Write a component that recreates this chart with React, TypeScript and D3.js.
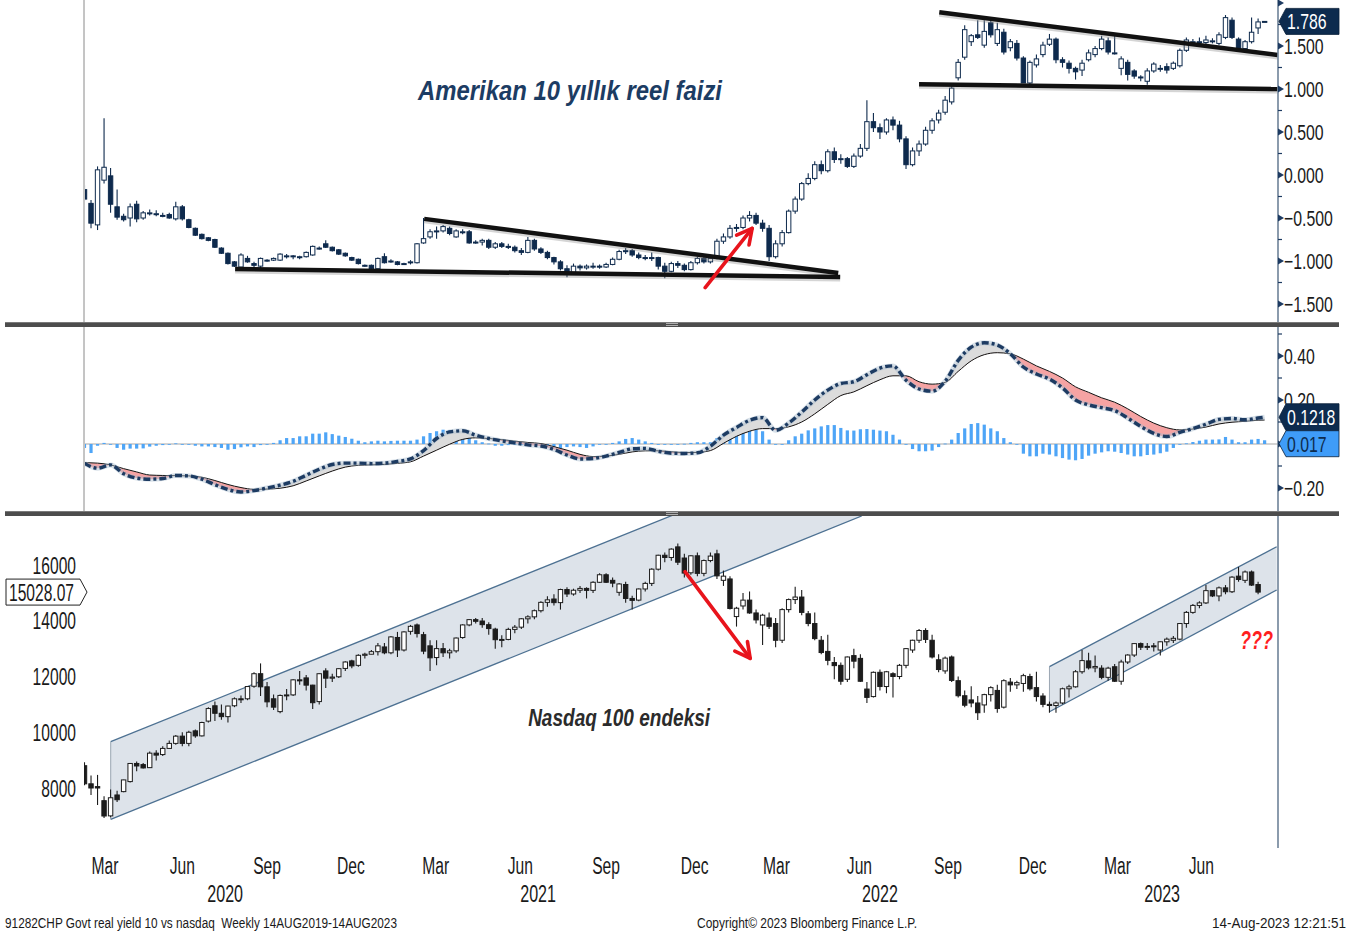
import React from "react";
import * as d3 from "d3";

// ---------------- DATA ----------------
const firstWeek = "2020-02-28"; // weekly bars, Fridays
const lastWeekIndex = 181;

// US 10y real yield weekly candles [open, high, low, close]
const realYieldOHLC: number[][] = [
  [-0.17,-0.12,-0.30,-0.28],[-0.33,-0.29,-0.62,-0.56],[-0.58,0.10,-0.64,0.06],[-0.06,0.66,-0.10,0.09],[-0.01,0.08,-0.44,-0.34],
  [-0.37,-0.17,-0.52,-0.49],[-0.48,-0.45,-0.54,-0.52],[-0.50,-0.33,-0.60,-0.37],[-0.34,-0.30,-0.55,-0.51],[-0.50,-0.42,-0.52,-0.44],
  [-0.44,-0.40,-0.47,-0.44],[-0.45,-0.41,-0.48,-0.45],[-0.47,-0.44,-0.49,-0.47],[-0.46,-0.44,-0.51,-0.50],[-0.51,-0.31,-0.53,-0.37],
  [-0.37,-0.35,-0.53,-0.51],[-0.52,-0.51,-0.62,-0.61],[-0.62,-0.61,-0.71,-0.70],[-0.69,-0.68,-0.75,-0.74],[-0.73,-0.72,-0.77,-0.76],
  [-0.75,-0.74,-0.85,-0.84],[-0.85,-0.84,-0.92,-0.91],[-0.91,-0.90,-1.04,-1.03],[-1.01,-1.00,-1.07,-1.06],[-1.07,-0.91,-1.08,-0.93],
  [-0.97,-0.94,-1.02,-1.01],[-1.03,-1.01,-1.07,-1.05],[-1.06,-0.96,-1.09,-0.97],[-0.99,-0.98,-1.01,-0.99],[-0.99,-0.96,-1.00,-0.97],
  [-0.99,-0.91,-1.00,-0.92],[-0.94,-0.92,-0.97,-0.94],[-0.94,-0.93,-0.98,-0.94],[-0.95,-0.94,-0.98,-0.95],[-0.95,-0.89,-0.96,-0.90],
  [-0.93,-0.82,-0.94,-0.83],[-0.85,-0.83,-0.87,-0.85],[-0.80,-0.76,-0.85,-0.84],[-0.84,-0.83,-0.89,-0.88],[-0.87,-0.86,-0.93,-0.92],
  [-0.91,-0.90,-0.95,-0.94],[-0.96,-0.95,-1.00,-0.99],[-0.98,-0.97,-1.04,-1.03],[-1.05,-1.04,-1.07,-1.05],[-1.05,-1.04,-1.10,-1.09],
  [-1.09,-0.96,-1.10,-0.97],[-0.95,-0.91,-1.03,-1.02],[-1.00,-0.98,-1.02,-1.00],[-1.01,-1.00,-1.05,-1.04],[-1.03,-1.02,-1.04,-1.03],
  [-1.01,-0.99,-1.04,-1.01],[-1.02,-0.79,-1.03,-0.80],[-0.79,-0.50,-0.80,-0.74],[-0.72,-0.63,-0.74,-0.66],[-0.65,-0.60,-0.74,-0.65],
  [-0.65,-0.58,-0.67,-0.60],[-0.62,-0.60,-0.70,-0.68],[-0.72,-0.63,-0.73,-0.65],[-0.66,-0.63,-0.69,-0.66],[-0.66,-0.64,-0.80,-0.79],
  [-0.78,-0.76,-0.80,-0.78],
  [-0.78,-0.74,-0.82,-0.76],[-0.76,-0.74,-0.86,-0.84],[-0.84,-0.78,-0.86,-0.80],[-0.80,-0.78,-0.85,-0.83],[-0.83,-0.80,-0.86,-0.84],
  [-0.84,-0.82,-0.90,-0.88],[-0.88,-0.85,-0.93,-0.90],[-0.90,-0.72,-0.91,-0.76],[-0.76,-0.74,-0.88,-0.86],[-0.86,-0.84,-0.92,-0.90],
  [-0.90,-0.88,-0.98,-0.96],[-0.96,-0.95,-1.04,-1.01],[-1.01,-0.99,-1.11,-1.09],[-1.09,-1.05,-1.19,-1.15],[-1.15,-1.03,-1.16,-1.06],
  [-1.06,-1.04,-1.11,-1.08],[-1.08,-1.04,-1.10,-1.06],[-1.06,-1.02,-1.09,-1.06],[-1.06,-1.04,-1.09,-1.07],[-1.07,-1.02,-1.08,-1.04],
  [-1.04,-0.96,-1.05,-0.98],[-0.98,-0.87,-0.99,-0.89],[-0.89,-0.85,-0.92,-0.88],[-0.88,-0.86,-0.95,-0.93],[-0.93,-0.90,-0.98,-0.96],
  [-0.96,-0.93,-0.99,-0.97],[-0.97,-0.90,-1.00,-0.96],[-0.96,-0.95,-1.10,-1.06],[-1.06,-1.02,-1.20,-1.12],[-1.12,-1.01,-1.13,-1.03],
  [-1.03,-1.00,-1.08,-1.05],[-1.05,-1.03,-1.12,-1.10],[-1.10,-1.00,-1.11,-1.02],[-1.02,-0.95,-1.04,-0.97],[-0.97,-0.95,-1.03,-1.01],
  [-1.01,-0.95,-1.03,-0.97],[-0.97,-0.74,-0.98,-0.77],[-0.77,-0.68,-0.80,-0.72],[-0.72,-0.58,-0.74,-0.62],[-0.62,-0.57,-0.66,-0.61],
  [-0.61,-0.47,-0.63,-0.50],[-0.50,-0.42,-0.54,-0.47],[-0.47,-0.44,-0.58,-0.56],[-0.56,-0.52,-0.66,-0.62],[-0.62,-0.58,-1.00,-0.95],
  [-0.95,-0.76,-0.97,-0.80],[-0.80,-0.64,-0.83,-0.67],[-0.67,-0.40,-0.68,-0.42],[-0.42,-0.25,-0.45,-0.28],[-0.28,-0.08,-0.30,-0.10],
  [-0.10,0.02,-0.12,-0.04],[-0.04,0.16,-0.06,0.12],[0.12,0.17,0.01,0.05],[0.05,0.30,0.03,0.27],[0.27,0.32,0.14,0.18],
  [0.18,0.24,0.13,0.19],[0.19,0.21,0.08,0.10],[0.10,0.25,0.08,0.22],[0.22,0.36,0.20,0.31],[0.31,0.87,0.28,0.62],
  [0.62,0.72,0.50,0.55],[0.55,0.60,0.42,0.50],[0.50,0.66,0.47,0.64],[0.64,0.68,0.52,0.58],[0.58,0.63,0.38,0.42],
  [0.42,0.45,0.07,0.12],[0.12,0.32,0.10,0.28],[0.28,0.40,0.22,0.36],[0.36,0.56,0.34,0.52],[0.52,0.66,0.48,0.63],
  [0.64,0.76,0.60,0.72],[0.73,0.92,0.70,0.87],[0.85,1.06,0.82,1.01],[1.13,1.35,1.10,1.31],[1.37,1.74,1.34,1.69],
  [1.55,1.64,1.50,1.62],[1.63,1.80,1.58,1.60],[1.51,1.80,1.48,1.67],[1.77,1.80,1.60,1.63],[1.53,1.77,1.50,1.69],
  [1.66,1.70,1.40,1.43],[1.48,1.58,1.44,1.55],[1.53,1.57,1.33,1.36],[1.36,1.38,1.07,1.07],[1.07,1.33,1.05,1.31],
  [1.28,1.40,1.25,1.35],[1.40,1.55,1.37,1.51],[1.52,1.64,1.50,1.58],[1.58,1.60,1.30,1.34],[1.34,1.37,1.25,1.31],
  [1.30,1.33,1.18,1.24],[1.24,1.26,1.11,1.20],[1.22,1.34,1.15,1.30],[1.34,1.46,1.32,1.42],[1.40,1.50,1.37,1.47],
  [1.47,1.62,1.45,1.58],[1.56,1.60,1.40,1.43],[1.42,1.65,1.40,1.42],[1.24,1.38,1.16,1.35],[1.31,1.34,1.10,1.17],
  [1.21,1.23,1.12,1.15],[1.14,1.16,1.09,1.14],[1.09,1.24,1.05,1.21],[1.21,1.31,1.19,1.29],[1.24,1.28,1.20,1.24],
  [1.26,1.30,1.18,1.22],[1.24,1.32,1.22,1.30],[1.27,1.47,1.25,1.45],[1.45,1.60,1.43,1.57],[1.55,1.58,1.50,1.55],
  [1.55,1.60,1.53,1.55],[1.54,1.62,1.52,1.57],[1.56,1.59,1.53,1.56],[1.53,1.66,1.51,1.63],[1.60,1.86,1.58,1.83],
  [1.80,1.83,1.58,1.60],[1.58,1.60,1.44,1.46],[1.47,1.57,1.44,1.55],[1.55,1.83,1.53,1.66],[1.71,1.82,1.64,1.78],
  [1.786,1.79,1.78,1.786],
];

// Nasdaq 100 weekly candles [open, high, low, close]
const nasdaqOHLC: number[][] = [
  [8800,8920,8100,8150],[8150,8450,7750,8000],[8050,8470,7390,8000],[7545,7700,6920,6995],[7000,7950,6950,7650],
  [7750,7900,7500,7580],[7870,8300,7850,8290],[8230,8900,8200,8880],[8880,8950,8600,8790],[8840,8900,8700,8720],
  [8730,9310,8720,9250],[9250,9350,8990,9180],[9200,9500,9150,9420],[9420,9700,9400,9600],[9600,9900,9550,9860],
  [9860,10000,9500,9600],[9600,10050,9500,10000],[10050,10100,9800,9870],[9870,10380,9850,10350],[10400,10900,10350,10850],
  [10950,11100,10400,10680],[10680,11000,10450,10560],[10560,10950,10350,10940],[10950,11250,10900,11200],[11200,11320,11050,11190],
  [11200,11650,11150,11640],[11650,12150,11600,12100],[12100,12470,11300,11630],[11630,11800,10900,11090],[11200,11350,10800,10900],
  [10740,11350,10680,11320],[11320,11550,11150,11340],[11340,11900,11300,11880],[11880,12200,11700,11860],[11950,12050,11500,11690],
  [11690,11700,10830,11060],[11100,12120,11000,12100],[12200,12300,11590,11940],[11940,12100,11800,11980],[11990,12300,11950,12280],
  [12290,12550,12200,12520],[12560,12600,12300,12380],[12400,12800,12350,12760],[12760,12850,12650,12800],[12800,12950,12800,12890],
  [12890,13200,12750,13100],[13060,13200,12800,12850],[12850,13450,12800,13420],[13400,13600,12700,12950],[12950,13620,12900,13600],
  [13620,13850,13500,13800],[13850,13900,13400,13540],[13500,13600,12800,12910],[13100,13300,12200,12670],[12680,13300,12400,13000],
  [13000,13200,12700,12850],[12850,13000,12650,12920],[12920,13400,12850,13380],[13400,13870,13350,13850],[13850,14060,13800,14040],
  [14040,14100,13900,13980],[13990,14100,13750,13860],[13860,13950,13500,13720],[13700,13750,13000,13320],[13320,13480,13050,13330],
  [13330,13750,13300,13690],[13690,13850,13550,13770],[13770,14100,13700,14070],[14070,14200,13900,14140],[14140,14400,14050,14360],
  [14360,14700,14300,14660],[14660,14880,14500,14750],[14780,14950,14550,14650],[14650,15150,14400,15120],[15120,15200,14850,14960],
  [14960,15150,14900,15095],[15095,15250,15000,15160],[15160,15200,14800,15090],[15090,15420,15000,15380],[15380,15700,15350,15650],
  [15650,15700,15350,15380],[15450,15550,15200,15350],[15020,15350,14900,15320],[15300,15400,14650,14800],[14800,14900,14400,14730],
  [14740,15160,14700,15140],[15140,15400,15050,15340],[15340,15880,15250,15850],[15850,16370,15800,16350],[16350,16450,16100,16270],
  [16270,16600,16150,16570],[16650,16770,16000,16100],[16250,16400,15550,15710],[15720,16350,15650,16330],[16330,16450,15600,15700],
  [15700,16200,15600,16160],[16160,16450,16100,16320],[16400,16550,15500,15610],[15450,15800,15250,15600],[15500,15600,14400,14440],
  [14150,14500,13790,14450],[14530,15000,14400,14740],[14740,15050,14250,14280],[14280,14400,13900,14030],[13850,14250,13130,14200],
  [14100,14300,13700,13800],[13900,14100,13050,13300],[13300,14450,13200,14400],[14400,14800,14300,14760],[14760,15220,14600,14850],
  [14850,15100,14200,14300],[14250,14350,13800,13900],[13900,14300,13300,13360],[13300,13450,12800,12860],[12900,13500,12400,12580],
  [12500,12700,11900,12390],[12400,12500,11700,11830],[11900,12720,11800,12700],[12750,13000,12300,12550],[12650,12800,11800,11830],
  [11550,11800,11050,11250],[11280,12180,11250,12150],[12150,12250,11500,11640],[11640,12200,11400,12170],[12100,12150,11250,12000],
  [12000,12450,11900,12400],[12400,13020,12300,13000],[12950,13320,12850,13300],[13300,13700,13200,13650],[13650,13730,13200,13330],
  [13300,13500,12650,12700],[12600,12800,12150,12250],[12200,12720,12100,12660],[12700,12750,11800,11860],[11850,12000,11250,11310],
  [11310,11500,10900,10970],[11160,11650,10900,11050],[11050,11300,10440,10700],[10980,11380,10700,11350],[11350,11650,11100,11600],
  [11500,11700,10700,10850],[10900,11900,10850,11850],[11800,11950,11450,11700],[11700,11850,11550,11780],[11750,12100,11450,12030],
  [12000,12100,11500,11560],[11600,12170,11100,11280],[11300,11400,10900,11000],[11000,11100,10700,10960],[10960,11100,10700,11050],
  [11050,11600,11000,11560],[11560,11700,11250,11630],[11630,12230,11600,12170],[12170,12950,12100,12570],[12560,12850,12250,12310],
  [12310,12750,12150,12360],[12300,12400,11900,11970],[11970,12350,11850,12300],[12350,12450,11800,11830],[11830,12600,11700,12520],
  [12520,12800,12450,12770],[12770,13200,12700,13180],[13180,13220,12950,13050],[13050,13200,12950,13080],[13100,13200,12900,13070],
  [12950,13260,12750,13245],[13245,13400,13100,13340],[13300,13450,13200,13370],[13340,13920,13300,13900],[13900,14350,13750,14300],
  [14300,14600,14250,14550],[14550,14700,14450,14640],[14640,15280,14600,15080],[15080,15100,14850,14890],[14890,15230,14700,15180],
  [15180,15280,14950,15040],[15040,15600,15000,15565],[15600,15930,15400,15480],[15450,15800,15350,15750],[15750,15800,15250,15280],
  [15300,15400,14950,15028.07],
];

// MACD of real yield: lines read every 2 weeks (plus the last week)
const macdLine = [
  -0.088,-0.11,-0.095,-0.135,-0.155,-0.16,-0.157,-0.143,-0.145,-0.16,
  -0.185,-0.207,-0.218,-0.212,-0.2,-0.187,-0.17,-0.142,-0.115,-0.093,
  -0.087,-0.087,-0.089,-0.087,-0.079,-0.068,-0.03,0.025,0.055,0.06,
  0.04,0.025,0.014,0.005,-0.004,-0.009,-0.025,-0.05,-0.068,-0.066,
  -0.055,-0.038,-0.022,-0.02,-0.033,-0.042,-0.043,-0.04,-0.01,0.04,
  0.075,0.108,0.12,0.062,0.095,0.145,0.2,0.245,0.275,0.283,
  0.315,0.345,0.355,0.29,0.25,0.24,0.285,0.38,0.44,0.46,
  0.45,0.41,0.35,0.318,0.295,0.255,0.2,0.178,0.165,0.152,
  0.118,0.08,0.048,0.034,0.053,0.07,0.09,0.112,0.116,0.11,
  0.118,0.1218,
];
const signalLine = [
  -0.085,-0.087,-0.095,-0.112,-0.127,-0.141,-0.143,-0.144,-0.145,-0.151,
  -0.166,-0.184,-0.198,-0.206,-0.205,-0.201,-0.19,-0.168,-0.145,-0.123,
  -0.105,-0.097,-0.095,-0.093,-0.088,-0.081,-0.055,-0.028,-0.001,0.021,
  0.028,0.025,0.02,0.013,0.007,0.002,-0.012,-0.028,-0.047,-0.057,
  -0.055,-0.047,-0.036,-0.031,-0.031,-0.035,-0.039,-0.038,-0.03,0.003,
  0.035,0.058,0.07,0.07,0.078,0.1,0.137,0.18,0.22,0.237,
  0.265,0.292,0.31,0.31,0.283,0.272,0.28,0.33,0.378,0.406,
  0.415,0.41,0.386,0.355,0.33,0.3,0.26,0.235,0.21,0.19,
  0.16,0.125,0.095,0.074,0.064,0.068,0.077,0.091,0.099,0.103,
  0.108,0.109,
];
// weekly histogram
const macdHist = [
  -0.018,-0.041,-0.008,0.005,0,-0.018,-0.026,-0.021,-0.021,-0.02,
  -0.012,-0.008,-0.005,-0.003,0.003,0,-0.003,-0.008,-0.011,-0.011,
  -0.014,-0.018,-0.026,-0.023,-0.015,-0.011,-0.014,-0.005,0,0.005,
  0.017,0.027,0.027,0.035,0.035,0.047,0.047,0.053,0.045,0.038,
  0.032,0.024,0.015,0.008,0.012,0.015,0.012,0.014,0.015,0.015,
  0.015,0.02,0.035,0.05,0.058,0.065,0.062,0.058,0.05,0.035,
  0.017,0.008,0.002,-0.008,-0.008,-0.005,-0.003,-0.005,-0.003,-0.005,
  -0.008,-0.011,-0.014,-0.018,-0.014,-0.011,-0.014,-0.018,-0.011,-0.003,
  0,0.005,0.012,0.023,0.027,0.02,0.012,0.005,0,0,
  0,0,0.001,0.005,0.008,0.008,0.008,0.027,0.042,0.058,
  0.065,0.065,0.065,0.065,0.058,0.02,0,0,0.017,0.035,
  0.047,0.062,0.071,0.08,0.086,0.086,0.073,0.062,0.061,0.067,
  0.068,0.065,0.061,0.058,0.042,0.02,-0.003,-0.023,-0.033,-0.033,
  -0.03,-0.014,0.002,0.02,0.05,0.071,0.091,0.095,0.088,0.071,
  0.058,0.027,0.008,-0.003,-0.044,-0.056,-0.056,-0.044,-0.048,-0.056,
  -0.064,-0.071,-0.074,-0.068,-0.053,-0.044,-0.038,-0.033,-0.035,-0.041,
  -0.048,-0.056,-0.056,-0.05,-0.048,-0.042,-0.035,-0.018,-0.003,0.003,
  0.009,0.015,0.02,0.02,0.021,0.032,0.02,0.008,0.008,0.02,
  0.023,0.017,
];

const ryTicks = [-1.5, -1, -0.5, 0, 0.5, 1, 1.5, 2];
const ryMinorTicks = [-1.25, -0.75, -0.25, 0.25, 0.75, 1.25, 1.75];
const macdTicks = [-0.2, 0, 0.2, 0.4];
const macdLabelTicks = [-0.2, 0.2, 0.4]; // 0.00 is hidden by the value tags
const macdMinorTicks = [-0.1, 0.1, 0.3, 0.5];
const ndxTicks = [8000, 10000, 12000, 14000, 16000];
const monthLabels = ["Mar","Jun","Sep","Dec","Mar","Jun","Sep","Dec","Mar","Jun","Sep","Dec","Mar","Jun"];
const monthLabelDates = ["2020-03-21","2020-06-12","2020-09-11","2020-12-10","2021-03-11","2021-06-10","2021-09-10","2021-12-14","2022-03-12","2022-06-09","2022-09-12","2022-12-12","2023-03-13","2023-06-11"];
const yearLabels = ["2020","2021","2022","2023"];
const yearLabelDates = ["2020-07-28","2021-06-29","2022-07-01","2023-04-30"];

// annotations (data coordinates: week index, value)
const ryTrendLines = [
  [[52.1, -0.51], [115.6, -1.14]],
  [[23.1, -1.093], [115.9, -1.186]],
  [[131.1, 1.892], [183.0, 1.395]],
  [[128.0, 1.055], [183.0, 1.0]],
];
const ryArrow = [[95.2, -1.31], [102.4, -0.62]];
const ndxArrow = [[92.1, 15760], [102.1, 12650]];
const ndxChannels = [
  { from: 4.02, to: 119.2, upper: [9661, 20520], lower: [6877, 17758] },
  { from: 148.0, to: 182.85, upper: [12352, 16656], lower: [10737, 15103] },
];

// ---------------- DRAWING ----------------
const parse = d3.utcParse("%Y-%m-%d");
const t0 = parse(firstWeek) as Date;
const DAY = 86400000;
const weekDate = (w: number) => new Date(t0.getTime() + w * 7 * DAY);

const FONT = "'Liberation Sans', Arial, sans-serif";

function NText({ x, y, children, size = 22, sx = 0.72, anchor = "start", fill = "#1a1a1a" }: any) {
  return (
    <text transform={`translate(${x},${y}) scale(${sx},1)`} fontSize={size} textAnchor={anchor}
      fill={fill} fontFamily={FONT}>{children}</text>
  );
}

function Arrow({ x1, y1, x2, y2 }: any) {
  const ang = Math.atan2(y2 - y1, x2 - x1);
  const L = 17, a = Math.PI / 6.5;
  const p1 = [x2 - L * Math.cos(ang - a), y2 - L * Math.sin(ang - a)];
  const p2 = [x2 - L * Math.cos(ang + a), y2 - L * Math.sin(ang + a)];
  return (
    <g stroke="#e8141c" strokeWidth={3.6} fill="none" strokeLinecap="round" strokeLinejoin="round">
      <line x1={x1} y1={y1} x2={x2} y2={y2} />
      <polyline points={`${p1.join(",")} ${x2},${y2} ${p2.join(",")}`} />
    </g>
  );
}

function Candles({ data, xw, y, color, bw }: any) {
  return (
    <g>
      {data.map((d: number[], i: number) => {
        const [o, h, l, c] = d;
        const cx = xw(i);
        const up = c >= o;
        const yo = y(o), yc = y(c);
        const top = Math.min(yo, yc);
        const bh = Math.max(1, Math.abs(yo - yc));
        return (
          <g key={i}>
            <line x1={cx} x2={cx} y1={y(h)} y2={y(l)} stroke={color} strokeWidth={1.1} />
            <rect x={cx - bw / 2} y={top} width={bw} height={bh} fill={up ? "#ffffff" : color}
              stroke={color} strokeWidth={1} />
          </g>
        );
      })}
    </g>
  );
}

function TagBox({ x, y, text, bg, fg, h = 26, w = 60 }: any) {
  const d = `M${x},${y} L${x + 7},${y - h / 2} L${x + w},${y - h / 2} L${x + w},${y + h / 2} L${x + 7},${y + h / 2} Z`;
  return (
    <g>
      <path d={d} fill={bg} stroke="#0a1f38" strokeWidth={0.8} />
      <NText x={x + 8} y={y + 8} fill={fg} size={22} sx={0.72}>{text}</NText>
    </g>
  );
}

export default function App() {
  const plotL = 84, plotR = 1278;
  const topP = { t: 0, b: 321 };
  const midP = { t: 327, b: 511 };
  const botP = { t: 516, b: 848 };

  const x = d3.scaleUtc().domain([weekDate(0), weekDate(lastWeekIndex)]).range([84.5, 84.5 + 6.52 * lastWeekIndex]);
  const xw = (w: number) => x(weekDate(w));
  const xd = (s: string) => x(parse(s) as Date);

  const yTop = d3.scaleLinear().domain([0, 1]).range([175, 89]);
  const yMid = d3.scaleLinear().domain([0, 0.4]).range([444, 356]);
  const yBot = d3.scaleLinear().domain([8000, 16000]).range([788, 565]);

  const fmt3 = d3.format(".3f");
  const fmt2 = d3.format(".2f");

  // MACD geometry
  const pts = macdLine.map((m, k) => ({
    w: k < macdLine.length - 1 ? k * 2 : lastWeekIndex,
    m,
    s: signalLine[k],
  }));
  const curve = d3.curveMonotoneX;
  const lineM = d3.line<any>().x((d) => xw(d.w)).y((d) => yMid(d.m)).curve(curve);
  const lineS = d3.line<any>().x((d) => xw(d.w)).y((d) => yMid(d.s)).curve(curve);
  const between = d3.area<any>().x((d) => xw(d.w)).y0((d) => yMid(d.s)).y1((d) => yMid(d.m)).curve(curve);
  const aboveSig = d3.area<any>().x((d) => xw(d.w)).y0(midP.t).y1((d) => yMid(d.s)).curve(curve);
  const belowSig = d3.area<any>().x((d) => xw(d.w)).y0((d) => yMid(d.s)).y1(midP.b).curve(curve);

  const lastRY = realYieldOHLC[realYieldOHLC.length - 1][3];
  const lastNDX = nasdaqOHLC[nasdaqOHLC.length - 1][3];
  const lastMacd = macdLine[macdLine.length - 1];
  const lastHist = macdHist[macdHist.length - 1];

  const tagMacdY = yMid(lastMacd);
  const tagHistY = Math.max(yMid(lastHist), tagMacdY + 26.5);
  const tagTop = tagMacdY - 13.5;

  const axisCol = "#6e8298";

  return (
    <svg width={1359} height={936} style={{ position: "absolute", left: 0, top: 0, background: "#fff" }}
      fontFamily={FONT}>
      <defs>
        <clipPath id="clipTop"><rect x={85} y={topP.t} width={plotR - 85} height={topP.b - topP.t} /></clipPath>
        <clipPath id="clipMid"><rect x={85} y={midP.t} width={plotR - 85} height={midP.b - midP.t} /></clipPath>
        <clipPath id="clipBot"><rect x={plotL} y={botP.t} width={plotR - plotL} height={botP.b - botP.t} /></clipPath>
        <clipPath id="clipAbove"><path d={aboveSig(pts) || ""} /></clipPath>
        <clipPath id="clipBelow"><path d={belowSig(pts) || ""} /></clipPath>
        <clipPath id="clipMidLabels">
          <rect x={plotR} y={midP.t} width={81} height={tagTop - midP.t} />
          <rect x={plotR} y={tagHistY + 13} width={81} height={midP.b - tagHistY - 13} />
        </clipPath>
      </defs>
      <rect x={0} y={0} width={1359} height={936} fill="#ffffff" />

      {/* ---------- TOP PANEL ---------- */}
      <g clipPath="url(#clipTop)">
        <Candles data={realYieldOHLC} xw={xw} y={yTop} color="#0e2a4d" bw={4.4} />
        {ryTrendLines.map((ln, k) => (
          <g key={k}>
            <line x1={xw(ln[0][0])} y1={yTop(ln[0][1]) + 1.5} x2={xw(ln[1][0])} y2={yTop(ln[1][1]) + 1.5}
              stroke="#888" strokeWidth={6} opacity={0.35} />
            <line x1={xw(ln[0][0])} y1={yTop(ln[0][1])} x2={xw(ln[1][0])} y2={yTop(ln[1][1])}
              stroke="#111" strokeWidth={4.5} />
          </g>
        ))}
        <Arrow x1={xw(ryArrow[0][0])} y1={yTop(ryArrow[0][1])} x2={xw(ryArrow[1][0])} y2={yTop(ryArrow[1][1])} />
      </g>
      <text x={xw(74.46)} y={yTop(0.87)} textAnchor="middle" fontSize={28} fontWeight="bold" fontStyle="italic"
        fill="#1c3c63" textLength={304} lengthAdjust="spacingAndGlyphs" fontFamily={FONT}>
        Amerikan 10 yıllık reel faizi
      </text>

      {/* ---------- MIDDLE PANEL (MACD) ---------- */}
      <g clipPath="url(#clipMid)">
        <line x1={plotL} x2={plotR} y1={yMid(0)} y2={yMid(0)} stroke="#c4c4c4" strokeWidth={1.5} />
        {macdHist.map((v, i) => (
          <rect key={i} x={xw(i) - 1.6} width={3.2}
            y={Math.min(yMid(0), yMid(v))} height={Math.max(0.8, Math.abs(yMid(v) - yMid(0)))}
            fill="#4ea5f7" />
        ))}
        <path d={between(pts) || ""} fill="#dcdcdc" clipPath="url(#clipAbove)" />
        <path d={between(pts) || ""} fill="#f6a3a3" clipPath="url(#clipBelow)" />
        <path d={lineS(pts) || ""} fill="none" stroke="#111" strokeWidth={1} />
        <path d={lineM(pts) || ""} fill="none" stroke="#a9bccf" strokeWidth={5} opacity={0.45} />
        <path d={lineM(pts) || ""} fill="none" stroke="#1d3b62" strokeWidth={3.4} strokeDasharray="7 3 3 3" />
      </g>

      {/* ---------- BOTTOM PANEL ---------- */}
      <g clipPath="url(#clipBot)">
        {ndxChannels.map((c, k) => {
          const p = [
            [xw(c.from), yBot(c.lower[0])],
            [xw(c.from), yBot(c.upper[0])],
            [xw(c.to), yBot(c.upper[1])],
            [xw(c.to), yBot(c.lower[1])],
          ];
          return (
            <g key={k}>
              <polygon points={p.map((q) => q.join(",")).join(" ")} fill="#dde3ea" />
              <line x1={p[0][0]} y1={p[0][1]} x2={p[1][0]} y2={p[1][1]} stroke="#9aa6b2" strokeWidth={1} />
              <line x1={p[1][0]} y1={p[1][1]} x2={p[2][0]} y2={p[2][1]} stroke="#4d7192" strokeWidth={1.3} />
              <line x1={p[0][0]} y1={p[0][1]} x2={p[3][0]} y2={p[3][1]} stroke="#4d7192" strokeWidth={1.3} />
            </g>
          );
        })}
        <Candles data={nasdaqOHLC} xw={xw} y={yBot} color="#1c1c1c" bw={4.4} />
        <Arrow x1={xw(ndxArrow[0][0])} y1={yBot(ndxArrow[0][1])} x2={xw(ndxArrow[1][0])} y2={yBot(ndxArrow[1][1])} />
      </g>
      <text x={xw(82)} y={yBot(10230)} textAnchor="middle" fontSize={23} fontWeight="bold" fontStyle="italic"
        fill="#2b2b2b" textLength={182} lengthAdjust="spacingAndGlyphs" fontFamily={FONT}>
        Nasdaq 100 endeksi
      </text>
      <text x={xw(179.75)} y={yBot(13000)} textAnchor="middle" fontSize={25} fontWeight="bold" fontStyle="italic"
        fill="#ff1f1f" textLength={33} lengthAdjust="spacingAndGlyphs" fontFamily={FONT}>
        ???
      </text>

      {/* ---------- AXES ---------- */}
      <line x1={84} x2={84} y1={0} y2={511} stroke="#8a8a8a" strokeWidth={1} />
      <line x1={plotR} x2={plotR} y1={0} y2={848} stroke={axisCol} strokeWidth={1.6} />

      {/* top right axis */}
      {ryTicks.map((v) => (
        <g key={v}>
          <polygon points={`${plotR},${yTop(v) - 3.5} ${plotR + 6},${yTop(v)} ${plotR},${yTop(v) + 3.5}`} fill="#1d3b62" />
          {v < 1.9 && <NText x={plotR + 6} y={yTop(v) + 8} size={22} sx={0.72}>{fmt3(v)}</NText>}
        </g>
      ))}
      {ryMinorTicks.map((v) => (
        <line key={v} x1={plotR} x2={plotR + 4} y1={yTop(v)} y2={yTop(v)} stroke="#1d3b62" strokeWidth={1.2} />
      ))}
      {/* middle right axis */}
      {macdTicks.map((v) => (
        <polygon key={v} points={`${plotR},${yMid(v) - 3.5} ${plotR + 6},${yMid(v)} ${plotR},${yMid(v) + 3.5}`} fill="#1d3b62" />
      ))}
      <g clipPath="url(#clipMidLabels)">
        {macdLabelTicks.map((v) => (
          <NText key={v} x={plotR + 6} y={yMid(v) + 8} size={22} sx={0.72}>{fmt2(v)}</NText>
        ))}
      </g>
      {macdMinorTicks.map((v) => (
        <line key={v} x1={plotR} x2={plotR + 4} y1={yMid(v)} y2={yMid(v)} stroke="#1d3b62" strokeWidth={1.2} />
      ))}
      {/* bottom left axis */}
      {ndxTicks.map((v) => (
        <NText key={v} x={76} y={yBot(v) + 8.5} size={24} sx={0.65} anchor="end">{String(v)}</NText>
      ))}

      {/* value tags */}
      <TagBox x={plotR + 1} y={yTop(lastRY)} text={d3.format(".3f")(lastRY)} bg="#0d2b4e" fg="#ffffff" />
      <TagBox x={plotR + 1} y={tagMacdY} text={String(lastMacd)} bg="#0d2b4e" fg="#ffffff" h={27} />
      <TagBox x={plotR + 1} y={tagHistY} text={d3.format(".3f")(lastHist)} bg="#3f9cf8" fg="#0d2b4e" h={26} />
      <g>
        <path d={`M6,${yBot(lastNDX) - 13} L80,${yBot(lastNDX) - 13} L87,${yBot(lastNDX)} L80,${yBot(lastNDX) + 13} L6,${yBot(lastNDX) + 13} Z`}
          fill="#ffffff" stroke="#222" strokeWidth={1} />
        <NText x={9} y={yBot(lastNDX) + 8.5} size={24} sx={0.65}>{d3.format(".2f")(lastNDX)}</NText>
      </g>

      {/* separators */}
      {[322, 511].map((yy) => (
        <g key={yy}>
          <rect x={5} y={yy} width={1334} height={5} fill="#4d4d4d" />
          <line x1={5} x2={1339} y1={yy + 0.5} y2={yy + 0.5} stroke="#7a7a7a" strokeWidth={1} />
          <line x1={666} x2={678} y1={yy + 1.5} y2={yy + 1.5} stroke="#c8c8c8" strokeWidth={0.8} />
          <line x1={666} x2={678} y1={yy + 3.5} y2={yy + 3.5} stroke="#c8c8c8" strokeWidth={0.8} />
        </g>
      ))}

      {/* x axis labels */}
      {monthLabels.map((m, k) => (
        <NText key={k} x={xd(monthLabelDates[k])} y={873.5} size={23} sx={0.68} anchor="middle">{m}</NText>
      ))}
      {yearLabels.map((yl, k) => (
        <NText key={yl} x={xd(yearLabelDates[k])} y={901.5} size={23} sx={0.7} anchor="middle">{yl}</NText>
      ))}

      {/* footer */}
      <text x={5} y={928} fontSize={14} fill="#1a1a1a" textLength={392} lengthAdjust="spacingAndGlyphs"
        style={{ whiteSpace: "pre" }} fontFamily={FONT}>
        {"91282CHP Govt real yield 10 vs nasdaq  Weekly 14AUG2019-14AUG2023"}
      </text>
      <text x={697} y={928} fontSize={14} fill="#1a1a1a" textLength={220} lengthAdjust="spacingAndGlyphs" fontFamily={FONT}>
        Copyright© 2023 Bloomberg Finance L.P.
      </text>
      <text x={1212} y={928} fontSize={14} fill="#1a1a1a" textLength={134} lengthAdjust="spacingAndGlyphs" fontFamily={FONT}>
        14-Aug-2023 12:21:51
      </text>
    </svg>
  );
}
